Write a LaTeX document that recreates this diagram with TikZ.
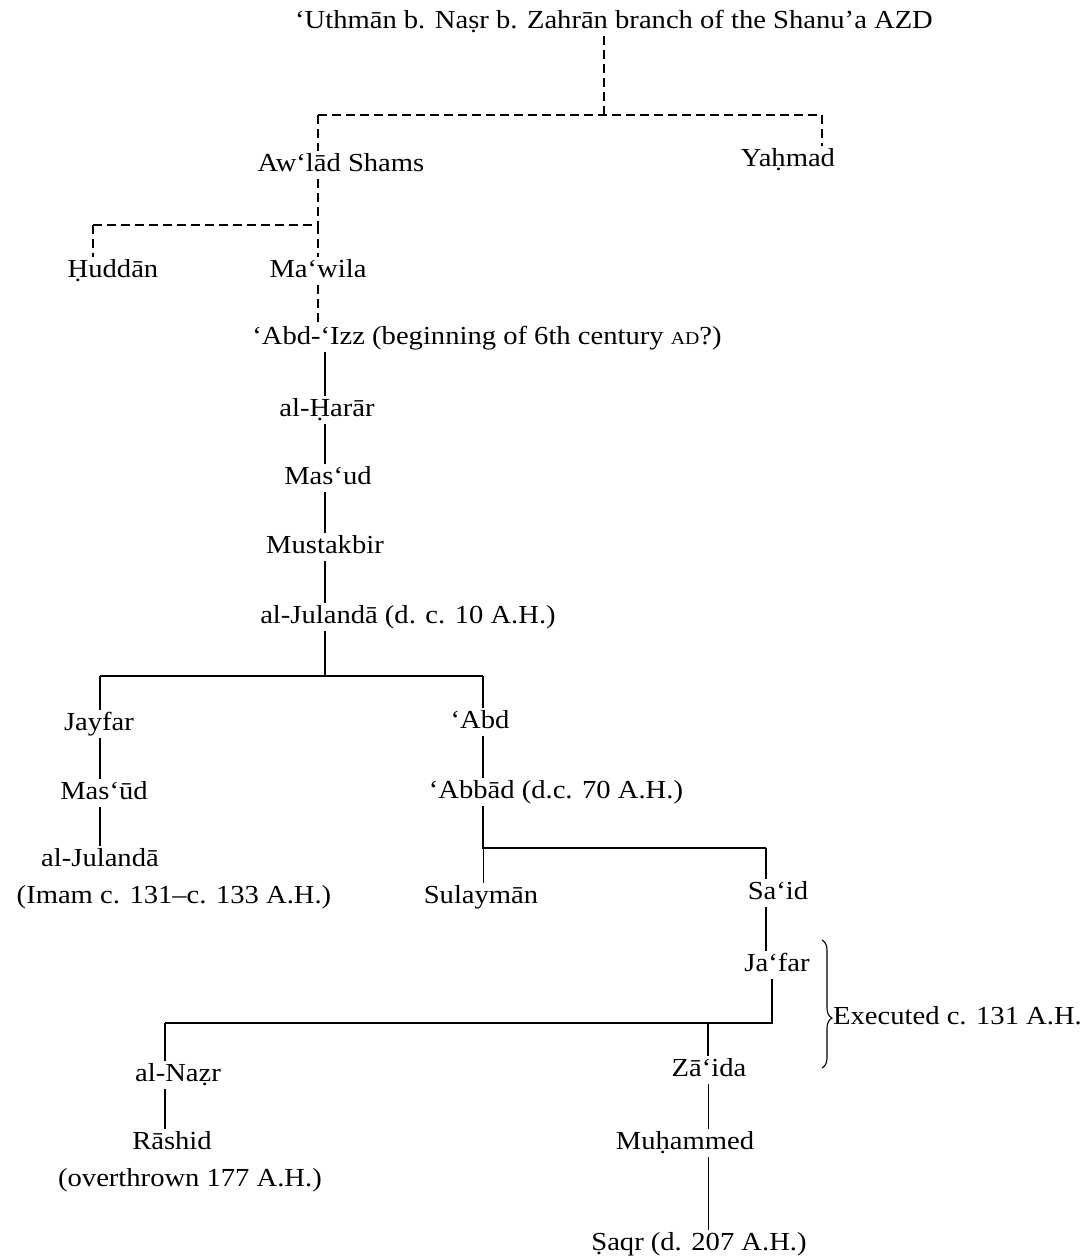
\documentclass[tikz,border=0pt]{standalone}
\usepackage{fontspec}
\setmainfont{Liberation Serif}[FakeStretch=1.1]
\usetikzlibrary{decorations.pathreplacing}

\newcommand{\treefont}{\fontsize{26}{31}\selectfont}
\newcommand{\smallcap}[1]{{\fontsize{18}{21}\selectfont #1}}

\begin{document}
\begin{tikzpicture}[x=1pt, y=1pt,
  person/.style={inner xsep=0pt, inner ysep=3pt, text height=17pt, text depth=5pt, font=\treefont},
  line/.style={line width=1.1pt},
  dashline/.style={line width=1.1pt, dash pattern=on 9pt off 5pt},
  thinline/.style={line width=0.8pt}]

  \useasboundingbox (0,0) rectangle (1081,-1259);

  % Top of the tree
  \node[person] (uthman) at (614,-22) {‘Uthmān b. Naṣr b. Zahrān branch of the Shanu’a AZD};
  \node[person] (awlad) at (341,-165) {Aw‘lād Shams};
  \node[person] (yahmad) at (788,-160) {Yaḥmad};
  \node[person] (huddan) at (113,-271) {Ḥuddān};
  \node[person] (mawila) at (318,-271) {Ma‘wila};
  \node[person] (abdizz) at (487,-338) {‘Abd-‘Izz (beginning of 6th century \smallcap{AD}?)};

  % Main line
  \node[person] (harar) at (327,-410) {al-Ḥarār};
  \node[person] (masud) at (328,-478) {Mas‘ud};
  \node[person] (mustakbir) at (325,-547) {Mustakbir};
  \node[person] (julanda) at (408,-617) {al-Julandā (d. c. 10 A.H.)};

  % Left branch
  \node[person] (jayfar) at (99,-724) {Jayfar};
  \node[person] (masuud) at (104,-793) {Mas‘ūd};
  \node[person] (julandaB) at (100,-860) {al-Julandā};
  \node[person] (imam) at (174,-897) {(Imam c. 131–c. 133 A.H.)};

  % Right branch
  \node[person] (abd) at (480,-722) {‘Abd};
  \node[person] (abbad) at (556,-792) {‘Abbād (d.c. 70 A.H.)};
  \node[person] (sulayman) at (481,-897) {Sulaymān};
  \node[person] (said) at (778,-893) {Sa‘id};
  \node[person] (jafar) at (777,-965) {Ja‘far};
  \node[person] (nazr) at (178,-1075) {al-Naẓr};
  \node[person] (zaida) at (709,-1070) {Zā‘ida};
  \node[person] (rashid) at (172,-1143) {Rāshid};
  \node[person] (overthrown) at (190,-1180) {(overthrown 177 A.H.)};
  \node[person] (muhammed) at (685,-1143) {Muḥammed};
  \node[person] (saqr) at (699,-1244) {Ṣaqr (d. 207 A.H.)};
  \node[person, anchor=west] (executed) at (833,-1018) {Executed c. 131 A.H.};

  % Junctions
  \coordinate (top) at (604,-115);
  \coordinate (topL) at (318,-115);
  \coordinate (topR) at (822,-115);
  \coordinate (mid) at (318,-225);
  \coordinate (midL) at (93,-225);
  \coordinate (split) at (325,-676);
  \coordinate (splitL) at (100,-676);
  \coordinate (splitR) at (483,-676);
  \coordinate (abbadL) at (483,-848);
  \coordinate (abbadR) at (766,-848);
  \coordinate (jafarR) at (772,-1023);
  \coordinate (jafarM) at (708,-1023);
  \coordinate (jafarL) at (165,-1023);

  % Dashed links
  \draw[dashline] (uthman.south -| top) -- (top);
  \draw[dashline] (topL) -- (topR);
  \draw[dashline] (topR) -- (yahmad.north -| topR);
  \draw[dashline] (topL) -- (awlad.north -| topL);
  \draw[dashline] (awlad.south -| mid) -- (mid);
  \draw[dashline] (midL) -- (mid);
  \draw[dashline] (midL) -- (huddan.north -| midL);
  \draw[dashline] (mid) -- (mawila.north);
  \draw[dashline] (mawila.south) -- (abdizz.north -| mawila.south);

  % Solid links
  \draw[line] (abdizz.south -| split) -- (harar.north -| split);
  \draw[line] (harar.south -| split) -- (masud.north -| split);
  \draw[line] (masud.south -| split) -- (mustakbir.north -| split);
  \draw[line] (mustakbir.south -| split) -- (julanda.north -| split);
  \draw[line] (julanda.south -| split) -- (split);
  \draw[line] (splitL) -- (splitR);
  \draw[line] (splitL) -- (jayfar.north -| splitL);
  \draw[line] (splitR) -- (abd.north -| splitR);
  \draw[line] (jayfar.south -| splitL) -- (masuud.north -| splitL);
  \draw[line] (masuud.south -| splitL) -- (julandaB.north -| splitL);
  \draw[line] (abd.south -| splitR) -- (abbad.north -| splitR);
  \draw[line] (abbad.south -| abbadL) -- (abbadL) -- (abbadR);
  \draw[thinline] (abbadL) -- (sulayman.north -| abbadL);
  \draw[line] (abbadR) -- (said.north -| abbadR);
  \draw[line] (said.south -| abbadR) -- (jafar.north -| abbadR);
  \draw[line] (jafar.south -| jafarR) -- (jafarR) -- (jafarL);
  \draw[line] (jafarL) -- (nazr.north -| jafarL);
  \draw[line] (jafarM) -- (zaida.north -| jafarM);
  \draw[line] (nazr.south -| jafarL) -- (rashid.north -| jafarL);
  \draw[thinline] (zaida.south -| jafarM) -- (muhammed.north -| jafarM);
  \draw[thinline] (muhammed.south -| jafarM) -- (saqr.north -| jafarM);

  % Brace
  \draw[line, decorate, decoration={brace, amplitude=10pt, aspect=0.61}]
    (822,-940) -- (822,-1068);

\end{tikzpicture}
\end{document}
